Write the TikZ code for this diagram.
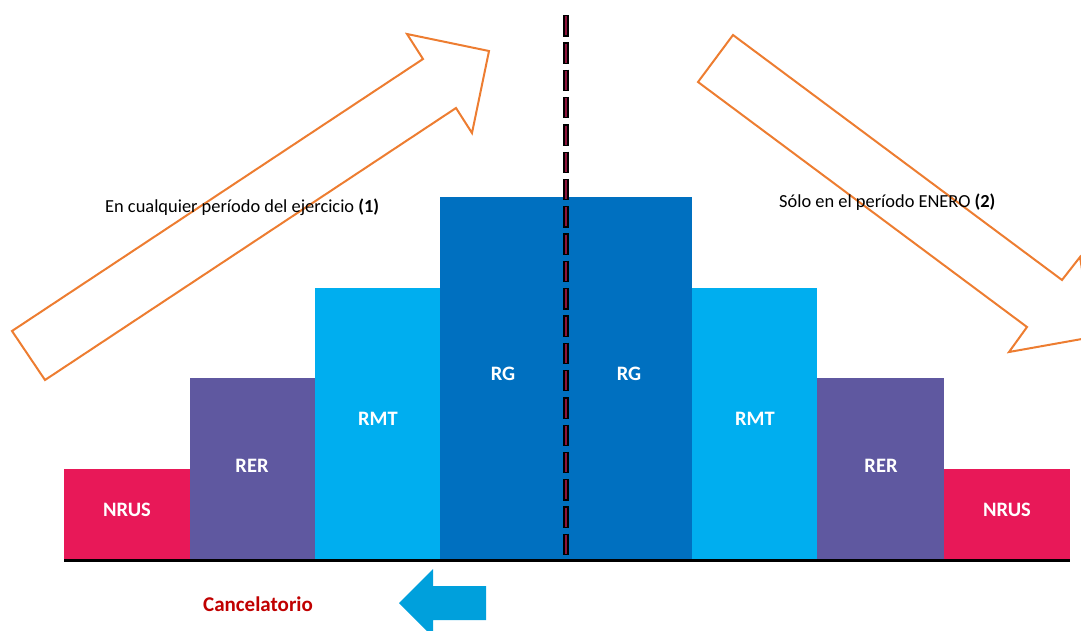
\documentclass[tikz,border=0pt]{standalone}
\usepackage{fontspec}
\setmainfont{Carlito}
\definecolor{nrus}{RGB}{232,24,88}
\definecolor{rer}{RGB}{95,88,160}
\definecolor{rmt}{RGB}{0,174,239}
\definecolor{rg}{RGB}{0,112,192}
\definecolor{arrorange}{RGB}{237,125,49}
\definecolor{arrblue}{RGB}{0,160,220}
\definecolor{dashred}{RGB}{140,20,60}
\definecolor{cancred}{RGB}{192,0,0}
\tikzset{
  bar/.style={rectangle, draw=none, inner sep=0pt, anchor=south west},
  barlbl/.style={text=white, font=\fontsize{20.5}{22}\selectfont\bfseries, inner sep=0pt, anchor=base},
  note/.style={text=black, font=\fontsize{18.4}{20}\selectfont, inner sep=0pt, anchor=base west},
  bigarrow/.style={draw=arrorange, line width=2pt, line join=miter, fill=none},
}
\begin{document}
\begin{tikzpicture}[x=1pt,y=-1pt]
\useasboundingbox (0,0) rectangle (1081,630);
\clip (0,0) rectangle (1081,630);
% bars
\node[bar, fill=nrus, minimum width=126pt, minimum height=91pt] (nrusL) at (64,560) {};
\node[bar, fill=rer, minimum width=125pt, minimum height=182pt] (rerL) at (190,560) {};
\node[bar, fill=rmt, minimum width=125pt, minimum height=272pt] (rmtL) at (315,560) {};
\node[bar, fill=rg, minimum width=126pt, minimum height=363pt] (rgL) at (440,560) {};
\node[bar, fill=rg, minimum width=126pt, minimum height=363pt] (rgR) at (566,560) {};
\node[bar, fill=rmt, minimum width=125pt, minimum height=272pt] (rmtR) at (692,560) {};
\node[bar, fill=rer, minimum width=127pt, minimum height=182pt] (rerR) at (817,560) {};
\node[bar, fill=nrus, minimum width=126pt, minimum height=91pt] (nrusR) at (944,560) {};
% bar labels
\node[barlbl] (tNrusL) at (127,516) {NRUS};
\node[barlbl] (tRerL) at (252,472) {RER};
\node[barlbl] (tRmtL) at (378,425) {RMT};
\node[barlbl] (tRgL) at (503,380) {RG};
\node[barlbl] (tRgR) at (629,380) {RG};
\node[barlbl] (tRmtR) at (755,425) {RMT};
\node[barlbl] (tRerR) at (881,472) {RER};
\node[barlbl] (tNrusR) at (1007,516) {NRUS};
% baseline
\coordinate (baseL) at (64,560.5);
\coordinate (baseR) at (1070,560.5);
\draw[line width=3pt, black] (baseL) -- (baseR);
% dashed divider
\coordinate (divTop) at (566,15);
\coordinate (divBot) at (566,562);
\coordinate (divTopIn) at (566,16.3);
\draw[line width=5.3pt, black, dash pattern=on 21.5pt off 5.8pt] (divTop) -- (divBot);
\draw[line width=2.8pt, dashred, dash pattern=on 19pt off 8.3pt] (divTopIn) -- (divBot);
% orange outline arrows
\draw[bigarrow] (12,331) -- (423,59) -- (407,34) -- (489,51) -- (472,133) -- (456,108) -- (45,380) -- cycle;
\draw[bigarrow] (733,35) -- (1062,280) -- (1080,257) -- (1093,337) -- (1009,352) -- (1027,327) -- (698,82) -- cycle;
% texts
\node[note] (t1) at (105,212) {En cualquier período del ejercicio \textbf{(1)}};
\node[note] (t2) at (779,207) {Sólo en el período ENERO \textbf{(2)}};
% cancelatorio
\node[text=cancred, font=\fontsize{21}{23}\selectfont\bfseries, inner sep=0pt, anchor=base west] (canc) at (203,611) {Cancelatorio};
\fill[arrblue] (399,603) -- (433,569) -- (433,586) -- (486,586) -- (486,620) -- (433,620) -- (433,637) -- cycle;
\end{tikzpicture}
\end{document}
